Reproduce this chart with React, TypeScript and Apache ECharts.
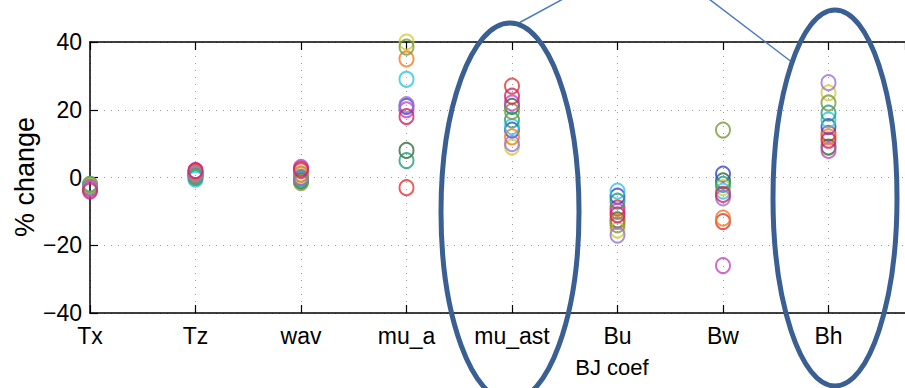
import React, { useEffect, useRef } from "react";
import * as echarts from "echarts";

const categories = ["Tx", "Tz", "wav", "mu_a", "mu_ast", "Bu", "Bw", "Bh"];
const yTicks = [-40, -20, 0, 20, 40];

// percentage change per ensemble member, one value per category (Tx..Bh)
const member0 = [-3, 1, 2, -3, 27, -9, -13, 13];
const member1 = [-2.5, 0.5, -1, 8, 21, -12.5, -1, 9];
const member2 = [-3, 1.5, 0, 21, 14, -5.5, 1, 15];
const member3 = [-2, -0.5, 1, 29, 15, -4, -4, 17];
const member4 = [-3.5, 2, 3, 20, 22, -10, -26, 8];
const member5 = [-2.5, 1, 0.5, 40, 9, -15.5, -3, 25];
const member6 = [-3, 0, -0.5, 5, 17, -7, -2, 19];
const member7 = [-3, 1.5, 1, 35, 12, -13, -12, 12];
const member8 = [-2, 0.5, -1.5, 38.5, 19.5, -14, 14, 22];
const member9 = [-3, 1, 0, 21.5, 10, -17, -6, 28];
const member10 = [-4, 2, 2.5, 18, 24, -11, -5, 11];

const members = [member0, member1, member2, member3, member4, member5, member6, member7, member8, member9, member10];
const memberColors = [
  "#e03434", "#2f6a34", "#3344d4", "#2ec4e4", "#c444c4", "#d6cc3a",
  "#1f9c7c", "#f07c1c", "#7a9a3e", "#9a72d6", "#d42262",
];

const FONT = "Liberation Sans, Arial, sans-serif";

export default function App() {
  const ref = useRef<HTMLDivElement>(null);
  useEffect(() => {
    if (!ref.current) return;
    const chart = echarts.init(ref.current, null, { renderer: "svg" });
    const gridLeft = 90;
    const gridTop = 42;
    const gridBottom = 75;
    const catStep = 105.5;
    const xMax = 1 + (905 - gridLeft) / catStep;
    const ellipseColor = "#3a5f92";
    const series = members.map((vals, i) => ({
      type: "scatter",
      data: vals.map((v, j) => [j + 1, v]),
      symbol: "circle",
      symbolSize: [14, 15],
      itemStyle: { color: "rgba(255,255,255,0)", borderColor: memberColors[i], borderWidth: 2 },
      silent: true,
      z: 3,
    }));
    const labelFor = (v: number) => {
      if (Math.abs(v - Math.round(v)) > 1e-6) return "";
      return categories[Math.round(v) - 1] ?? "";
    };
    chart.setOption({
      animation: false,
      grid: { left: gridLeft, top: gridTop, right: 0, bottom: gridBottom, containLabel: false },
      xAxis: [
        {
          type: "value",
          min: 1,
          max: xMax,
          interval: 1,
          position: "bottom",
          axisLine: { show: true, onZero: false, lineStyle: { color: "#000", width: 1.5 } },
          axisTick: { show: true, inside: true, length: 8, lineStyle: { color: "#000", width: 1.2 } },
          axisLabel: {
            show: true,
            margin: 11,
            color: "#000",
            fontFamily: FONT,
            fontSize: 23,
            formatter: labelFor,
            showMaxLabel: false,
          },
          splitLine: { show: true, lineStyle: { color: "#9a9a9a", type: [1, 6], width: 1 } },
        },
        {
          type: "value",
          min: 1,
          max: xMax,
          interval: 1,
          position: "top",
          axisLine: { show: true, onZero: false, lineStyle: { color: "#000", width: 1.5 } },
          axisTick: { show: true, inside: true, length: 8, lineStyle: { color: "#000", width: 1.2 } },
          axisLabel: { show: false },
          splitLine: { show: false },
        },
      ],
      yAxis: {
        type: "value",
        min: yTicks[0],
        max: yTicks[yTicks.length - 1],
        interval: 20,
        axisLine: { show: true, onZero: false, lineStyle: { color: "#000", width: 1.5 } },
        axisTick: { show: true, inside: true, length: 8, lineStyle: { color: "#000", width: 1.2 } },
        axisLabel: {
          color: "#000",
          fontFamily: FONT,
          fontSize: 23,
          margin: 8,
          formatter: (v: number) => String(v).replace("-", "\u2212"),
        },
        splitLine: { show: true, lineStyle: { color: "#9a9a9a", type: [1, 6], width: 1 } },
      },
      series,
      graphic: [
        {
          type: "text",
          x: 612,
          y: 367,
          style: { text: "BJ coef", fill: "#000", font: `22px ${FONT}`, align: "center", verticalAlign: "middle" },
        },
        {
          type: "text",
          x: 25,
          y: 177,
          rotation: Math.PI / 2,
          style: { text: "% change", fill: "#000", font: `27px ${FONT}`, align: "center", verticalAlign: "middle" },
        },
        {
          type: "line",
          shape: { x1: 517, y1: 24, x2: 563, y2: -1 },
          style: { stroke: "#4a7cc0", lineWidth: 1.5 },
          z: 10,
        },
        {
          type: "line",
          shape: { x1: 709, y1: -1, x2: 793, y2: 63 },
          style: { stroke: "#4a7cc0", lineWidth: 1.5 },
          z: 10,
        },
        {
          type: "ellipse",
          shape: { cx: 510, cy: 212, rx: 69, ry: 189 },
          style: { fill: "none", stroke: ellipseColor, lineWidth: 5 },
          z: 10,
        },
        {
          type: "ellipse",
          shape: { cx: 835, cy: 198, rx: 62, ry: 188 },
          style: { fill: "none", stroke: ellipseColor, lineWidth: 5 },
          z: 10,
        },
      ],
    });
    return () => chart.dispose();
  }, []);
  return <div ref={ref} style={{ width: 905, height: 388, position: "absolute", left: 0, top: 0, background: "#fff" }} />;
}
